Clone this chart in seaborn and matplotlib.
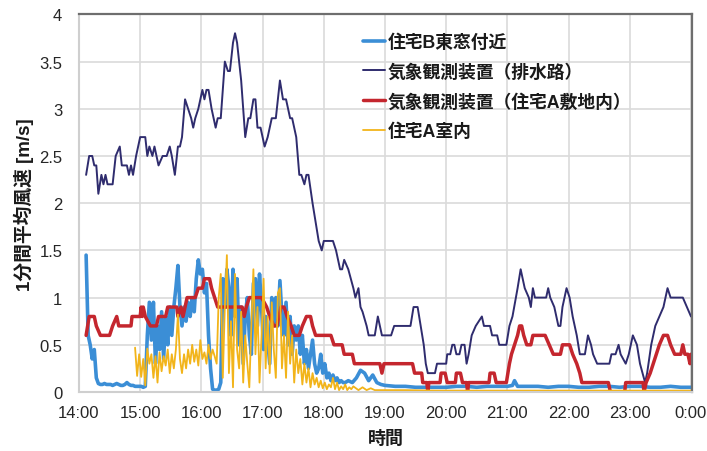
import numpy as np
import pandas as pd
import matplotlib
matplotlib.use("Agg")
import matplotlib.pyplot as plt
import seaborn as sns

# ---------------- data ----------------
tick_minutes = [0, 60, 120, 180, 240, 300, 360, 420, 480, 540, 600]
time_labels = ["14:00", "15:00", "16:00", "17:00", "18:00", "19:00",
               "20:00", "21:00", "22:00", "23:00", "0:00"]
y_ticks = [0, 0.5, 1, 1.5, 2, 2.5, 3, 3.5, 4]
y_tick_labels = ["0", "0.5", "1", "1.5", "2", "2.5", "3", "3.5", "4"]

series_names = ["住宅B東窓付近", "気象観測装置（排水路）",
                "気象観測装置（住宅A敷地内）", "住宅A室内"]

# 住宅B東窓付近 (minutes after 14:00)
t_houseB = list(range(7, 263, 2)) + [264, 268, 272, 276, 280, 284, 288, 292, 296, 300,
                                     310, 320, 330, 340, 350, 360, 370, 380, 390, 400,
                                     410, 420, 425, 427, 430, 440, 450, 460, 470, 480,
                                     490, 500, 510, 520, 530, 540, 550, 560, 570, 580,
                                     590, 600]
v_houseB = [1.45, 0.6, 0.5, 0.35, 0.45, 0.15, 0.09,
            0.08, 0.08, 0.09, 0.08, 0.08, 0.08, 0.07, 0.08, 0.09, 0.08, 0.07,
            0.07, 0.08, 0.1, 0.08, 0.07, 0.07, 0.06, 0.06, 0.06, 0.06, 0.05,
            0.06, 0.6, 0.95, 0.55, 0.95, 0.3, 0.7, 0.45, 0.85, 0.35, 0.8,
            0.5, 0.9, 0.6, 0.9, 1.1, 1.34, 0.9, 0.7, 0.9, 0.75,
            0.95, 0.8, 1.0, 0.85, 1.2, 1.4, 1.25, 1.3, 1.05, 1.15,
            0.6, 0.25,
            0.03, 0.02, 0.02, 0.03, 0.1,
            1.2, 0.9, 1.3, 1.1, 0.6, 1.3, 0.8, 1.2, 0.5, 0.9,
            0.3, 0.8, 1.0, 0.6, 0.4, 1.15, 1.2, 0.7, 1.25, 0.9,
            0.45, 0.8, 0.55, 0.3, 1.0, 0.7, 1.0, 0.7, 1.18, 0.8,
            0.6, 0.95, 0.5, 0.8, 0.4, 0.7,
            0.55, 0.7, 0.4, 0.6, 0.3, 0.45, 0.25, 0.4, 0.55, 0.3,
            0.2, 0.25, 0.4, 0.2, 0.3, 0.15, 0.2, 0.12, 0.18, 0.12,
            0.15, 0.1, 0.12, 0.1, 0.1,
            0.12, 0.1, 0.15, 0.23, 0.2, 0.12, 0.18, 0.1, 0.08, 0.07,
            0.06, 0.06, 0.05, 0.05, 0.05, 0.05, 0.06, 0.06, 0.05, 0.06,
            0.06, 0.06, 0.07, 0.12, 0.06, 0.06, 0.06, 0.05, 0.06, 0.06,
            0.05, 0.05, 0.06, 0.06, 0.05, 0.06, 0.06, 0.05, 0.05, 0.06,
            0.05, 0.05]

# 気象観測装置（排水路）
t_drain = [7, 10, 13, 15, 17, 19, 22, 24, 26, 28, 33, 36, 40, 42, 47, 49, 51, 53, 56, 60,
           65, 67, 69, 72, 74, 76, 78, 82, 86, 89, 91, 94, 97, 99, 101, 104, 107, 110, 112, 114,
           117, 121, 123, 125, 127, 130, 134, 136, 139, 143, 146, 148, 151, 153, 155, 157, 159, 161, 163, 166,
           168, 171, 173, 175, 178, 182, 185, 189, 193, 195, 197, 200, 203, 205, 207, 209, 211, 213, 216, 218,
           221, 223, 225, 229, 232, 235, 238, 240, 249, 252, 256, 258, 260, 264, 269, 271, 274, 276, 278, 282,
           284, 290, 293, 297, 306, 309, 325, 328, 332, 335, 338, 340, 342, 349, 351, 360, 361, 364, 366, 368,
           370, 373, 375, 378, 380, 382, 385, 389, 395, 397, 403, 405, 410, 412, 419, 422, 425, 430, 433, 437,
           441, 443, 445, 447, 452, 458, 460, 462, 466, 470, 472, 474, 478, 481, 484, 488, 491, 496, 499, 502,
           504, 508, 520, 522, 526, 529, 531, 536, 539, 543, 547, 550, 555, 557, 561, 565, 569, 573, 577, 580,
           592, 596, 600]
v_drain = [2.3, 2.5, 2.5, 2.4, 2.4, 2.1, 2.3, 2.2, 2.3, 2.2, 2.2, 2.5, 2.6, 2.4, 2.4, 2.3, 2.4, 2.3, 2.5, 2.7,
           2.7, 2.5, 2.6, 2.5, 2.6, 2.5, 2.4, 2.5, 2.5, 2.6, 2.5, 2.3, 2.6, 2.6, 2.7, 3.1, 3.0, 2.9, 2.8, 2.9,
           3.0, 3.2, 3.1, 3.2, 3.2, 3.0, 2.8, 2.9, 2.9, 3.5, 3.4, 3.4, 3.7, 3.8, 3.7, 3.5, 3.3, 3.0, 2.7, 2.9,
           2.9, 3.1, 3.1, 2.8, 2.8, 2.6, 2.7, 2.9, 2.9, 3.1, 3.3, 3.1, 3.1, 3.0, 2.9, 2.9, 2.8, 2.7, 2.3, 2.3,
           2.2, 2.3, 2.3, 2.0, 1.8, 1.6, 1.5, 1.6, 1.6, 1.5, 1.3, 1.3, 1.4, 1.3, 1.1, 1.0, 1.1, 0.9, 0.85, 0.7,
           0.6, 0.6, 0.8, 0.6, 0.6, 0.7, 0.7, 0.9, 0.9, 0.7, 0.5, 0.3, 0.2, 0.2, 0.3, 0.3, 0.4, 0.4, 0.5, 0.5,
           0.4, 0.4, 0.5, 0.5, 0.3, 0.4, 0.6, 0.7, 0.8, 0.7, 0.7, 0.6, 0.6, 0.5, 0.5, 0.7, 0.8, 1.1, 1.3, 1.1,
           1.0, 0.9, 1.1, 1.0, 1.0, 1.0, 1.1, 1.0, 0.9, 0.7, 0.7, 0.9, 1.1, 1.0, 0.8, 0.6, 0.4, 0.4, 0.6, 0.5,
           0.4, 0.3, 0.3, 0.4, 0.4, 0.5, 0.4, 0.3, 0.4, 0.6, 0.5, 0.3, 0.1, 0.2, 0.5, 0.7, 0.8, 0.9, 1.1, 1.0,
           1.0, 0.9, 0.8]

# 気象観測装置（住宅A敷地内）
t_siteA = [7, 10, 15, 17, 21, 30, 33, 37, 39, 51, 52, 60, 61, 62, 63, 65, 70, 76, 78, 85,
           87, 96, 97, 100, 102, 104, 106, 114, 117, 121, 123, 128, 130, 133, 136, 160, 162, 164, 167, 179,
           184, 187, 191, 194, 196, 198, 201, 204, 208, 211, 216, 219, 223, 227, 229, 232, 247, 250, 258, 260,
           268, 270, 295, 297, 299, 327, 329, 336, 337, 341, 342, 343, 354, 355, 359, 361, 369, 370, 374, 376,
           380, 381, 382, 402, 403, 407, 409, 419, 422, 424, 427, 430, 432, 434, 436, 439, 443, 445, 453, 457,
           461, 465, 472, 474, 481, 484, 488, 491, 493, 519, 521, 535, 536, 553, 554, 556, 560, 563, 566, 569,
           573, 577, 580, 584, 590, 592, 594, 597, 599, 600]
v_siteA = [0.6, 0.8, 0.8, 0.7, 0.6, 0.6, 0.7, 0.8, 0.7, 0.7, 0.8, 0.8, 0.9, 0.8, 0.9, 0.8, 0.7, 0.7, 0.8, 0.8,
           0.9, 0.9, 0.8, 0.9, 0.8, 0.9, 1.0, 1.0, 1.1, 1.1, 1.2, 1.2, 1.1, 1.0, 0.9, 0.9, 0.8, 0.9, 1.0, 1.0,
           0.9, 0.8, 0.7, 0.7, 0.8, 0.9, 0.9, 0.8, 0.7, 0.6, 0.6, 0.7, 0.8, 0.8, 0.7, 0.6, 0.6, 0.5, 0.5, 0.4,
           0.4, 0.3, 0.3, 0.2, 0.3, 0.3, 0.2, 0.2, 0.1, 0.1, 0.0, 0.1, 0.1, 0.2, 0.2, 0.1, 0.1, 0.2, 0.2, 0.1,
           0.1, 0.0, 0.1, 0.1, 0.2, 0.2, 0.1, 0.1, 0.3, 0.4, 0.5, 0.6, 0.7, 0.7, 0.6, 0.5, 0.5, 0.6, 0.6, 0.6,
           0.5, 0.4, 0.4, 0.5, 0.5, 0.4, 0.3, 0.2, 0.1, 0.1, 0.0, 0.0, 0.1, 0.1, 0.0, 0.1, 0.2, 0.3, 0.4, 0.5,
           0.6, 0.6, 0.5, 0.4, 0.4, 0.5, 0.4, 0.4, 0.3, 0.4]

# 住宅A室内
t_roomA = list(range(55, 271, 2)) + [274, 278, 282, 286, 290, 300, 320, 350, 400, 450, 500, 550, 600]
v_roomA = [0.47, 0.17, 0.40, 0.16, 0.35, 0.07, 0.46, 0.30, 0.40, 0.15,
           0.38, 0.10, 0.42, 0.22, 0.38, 0.28, 0.45, 0.20, 0.40, 0.25,
           0.45, 0.82, 0.35, 0.20, 0.40, 0.25, 0.45, 0.30, 0.50, 0.32,
           0.45, 0.28, 0.55, 0.35, 0.42, 0.30, 0.50, 0.35, 0.45, 0.38,
           0.30, 1.0, 1.25, 0.15, 0.9, 1.45, 0.2, 0.75, 0.05, 1.25,
           0.45, 0.25, 0.85, 0.1, 0.6, 0.3, 0.05, 0.7, 1.3, 0.4,
           0.9, 0.1, 0.6, 1.2, 0.25, 0.8, 0.2, 0.95, 0.45, 0.15,
           1.05, 1.1, 0.25, 0.6, 0.15, 0.85, 0.3, 0.6, 0.1, 0.45,
           0.2, 0.35, 0.08, 0.3, 0.1, 0.25, 0.05, 0.2, 0.08, 0.15,
           0.05, 0.12, 0.04, 0.1, 0.03, 0.08, 0.05, 0.15, 0.03, 0.1,
           0.02, 0.06, 0.03, 0.08, 0.02, 0.05, 0.03, 0.06,
           0.02, 0.05, 0.02, 0.04, 0.02, 0.02, 0.02, 0.015, 0.015, 0.015, 0.015, 0.015, 0.015]

colors = ["#3b8ed6", "#2f2c6e", "#c4262e", "#f2b41a"]
widths = [2.6, 1.4, 2.5, 1.3]

# ---------------- plot ----------------
sns.set_theme(style="white")
plt.rcParams["font.family"] = ["Liberation Sans", "Noto Sans CJK JP", "DejaVu Sans"]

fig, ax = plt.subplots(figsize=(7.07, 4.52), dpi=100)
fig.subplots_adjust(left=0.1117, right=0.9788, top=0.966, bottom=0.1305)

series = [(t_houseB, v_houseB), (t_drain, v_drain), (t_siteA, v_siteA), (t_roomA, v_roomA)]
for (t, v), name, c, lw in zip(series, series_names, colors, widths):
    df = pd.DataFrame({"minute": t, "speed": v})
    sns.lineplot(data=df, x="minute", y="speed", ax=ax, color=c, linewidth=lw,
                 label=name, estimator=None, sort=False)

ax.set_xlim(0, 601)
ax.set_ylim(0, 4)
ax.set_xticks(tick_minutes)
ax.set_xticklabels(time_labels)
ax.set_yticks(y_ticks)
ax.set_yticklabels(y_tick_labels)
ax.tick_params(axis="both", length=0, labelsize=12, colors="#262626")
ax.tick_params(axis="y", pad=12)
ax.tick_params(axis="x", pad=9)

ax.grid(True, color="#dadada", linewidth=1.2)
ax.set_axisbelow(True)
for s in ["left", "bottom"]:
    ax.spines[s].set_color("#cfcfcf")
    ax.spines[s].set_linewidth(1.5)
for s in ["top", "right"]:
    ax.spines[s].set_color("#6e6e6e")
    ax.spines[s].set_linewidth(1.6)

ax.set_ylabel("1分間平均風速 [m/s]", fontsize=13.5, fontweight="bold", color="#1a1a1a")
ax.set_xlabel("時間", fontsize=13, fontweight="bold", color="#1a1a1a")
ax.yaxis.set_label_coords(-0.074, 0.5)
ax.xaxis.set_label_coords(0.5, -0.1)

leg = ax.legend(loc="upper left", bbox_to_anchor=(0.463, 0.95), frameon=False,
                borderaxespad=0, borderpad=0, handlelength=1.25, handletextpad=0.15,
                labelspacing=0.69, prop={"weight": "bold", "size": 12.8})
for txt in leg.get_texts():
    txt.set_color("#1a1a1a")

fig.savefig("out.png", dpi=100)
